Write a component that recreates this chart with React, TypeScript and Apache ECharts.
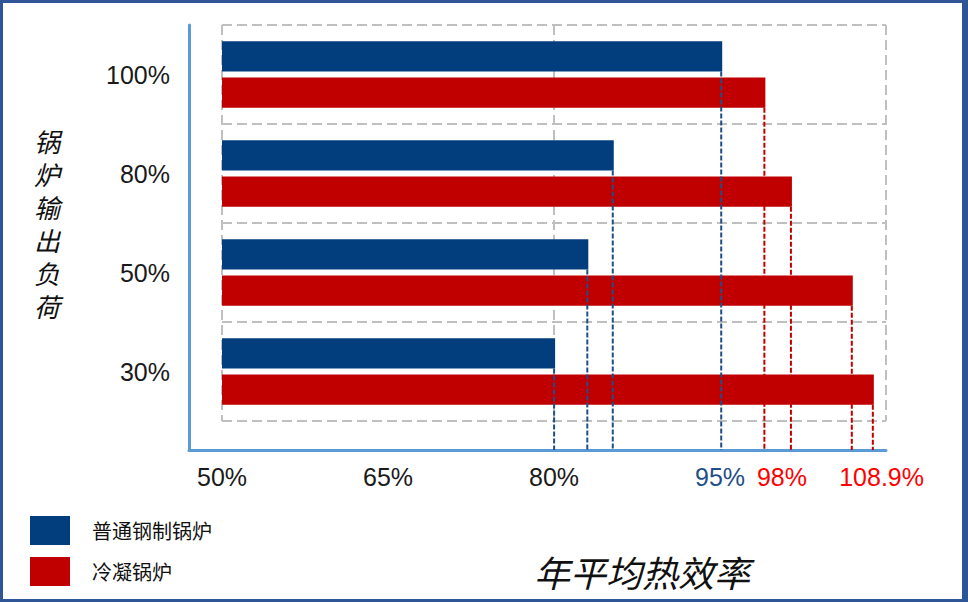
import React, { useEffect, useRef } from "react";
import * as echarts from "echarts";

// ---- data ----
const categories = ["100%", "80%", "50%", "30%"];
const seriesNames = ["普通钢制锅炉", "冷凝锅炉"];
const steelValues = [95.2, 85.4, 83.1, 80.1];
const condensingValues = [99.1, 101.5, 107.0, 108.9];
const xTickLabels = ["50%", "65%", "80%", "95%", "98%", "108.9%"];
const xTickValues = [50, 65, 80, 95, 100.6, 109.6];
const xTickStyles = ["k", "k", "k", "b", "r", "r"];
const xGridValues = [50, 80, 110];
const xMin = 50;
const xMax = 110;
const yAxisTitle = "锅炉输出负荷";
const xAxisTitle = "年平均热效率";

const BLUE = "#023e7e";
const RED = "#c00000";
const AXIS_BLUE = "#5b9bd5";
const NUM_FONT = "'Liberation Sans', Arial, sans-serif";
const CJK_FONT = "'Noto Sans CJK SC', sans-serif";

const CAT_GAP = 0.33;
const BAR_GAP = 0.2;

function dropLineSeries(name: string, values: number[], color: string, isFirst: boolean) {
  return {
    type: "custom",
    name,
    xAxisIndex: 0,
    yAxisIndex: 0,
    clip: false,
    z: 5,
    encode: { x: 0, y: 1 },
    data: values.map((v, i) => [v, i]),
    renderItem: (params: any, api: any) => {
      const v = api.value(0);
      const c = api.value(1);
      const p = api.coord([v, c]);
      const band = api.size([0, 1])[1];
      const barW = (band * (1 - CAT_GAP)) / (2 + BAR_GAP);
      const gap = barW * BAR_GAP;
      const yStart = isFirst ? p[1] - gap / 2 : p[1] + gap / 2 + barW;
      const yEnd = params.coordSys.y + params.coordSys.height + 29;
      return {
        type: "line",
        shape: { x1: p[0] - 1, y1: yStart, x2: p[0] - 1, y2: yEnd },
        style: { stroke: color, lineWidth: 2, lineDash: [5, 2] },
      };
    },
  };
}

export default function App() {
  const ref = useRef<HTMLDivElement>(null);
  useEffect(() => {
    if (!ref.current) return;
    const chart = echarts.init(ref.current, null, { renderer: "svg" });
    const rich: any = {
      k: { color: "#1a1a1a", fontSize: 25, fontFamily: NUM_FONT },
      b: { color: "#1f4e89", fontSize: 25, fontFamily: NUM_FONT },
      r: { color: "#ff0000", fontSize: 25, fontFamily: NUM_FONT },
    };
    chart.setOption({
      animation: false,
      backgroundColor: "#ffffff",
      grid: [
        { left: 222, right: 82, top: 25, bottom: 181 },
        { left: 189, right: 82, top: 25, bottom: 152 },
      ],
      legend: {
        orient: "vertical",
        left: 30,
        top: 516,
        padding: 0,
        itemWidth: 40,
        itemHeight: 29,
        itemGap: 12,
        icon: "rect",
        data: seriesNames,
        textStyle: {
          fontSize: 20,
          fontFamily: CJK_FONT,
          color: "#111111",
          padding: [0, 0, 0, 17],
        },
      },
      xAxis: [
        {
          type: "value",
          gridIndex: 0,
          min: xMin,
          max: xMax,
          axisLine: { show: false },
          axisTick: { show: false, customValues: xGridValues },
          splitLine: {
            show: true,
            lineStyle: { color: "#bfbfbf", width: 2, type: [10, 5] },
          },
          axisLabel: {
            show: true,
            margin: 43,
            customValues: xTickValues,
            formatter: (val: number) => {
              const i = xTickValues.indexOf(val);
              if (i < 0) return "";
              return `{${xTickStyles[i]}|${xTickLabels[i]}}`;
            },
            rich,
          },
        },
        {
          type: "value",
          gridIndex: 1,
          min: 0,
          max: 1,
          axisLine: { show: true, onZero: false, lineStyle: { color: AXIS_BLUE, width: 3 } },
          axisTick: { show: false },
          axisLabel: { show: false },
          splitLine: { show: false },
        },
      ],
      yAxis: [
        {
          type: "category",
          gridIndex: 0,
          inverse: true,
          data: categories,
          axisLine: { show: false },
          axisTick: { show: false },
          splitLine: {
            show: true,
            lineStyle: { color: "#bfbfbf", width: 2, type: [10, 5] },
          },
          axisLabel: {
            margin: 52,
            fontSize: 25,
            fontFamily: NUM_FONT,
            color: "#1a1a1a",
          },
        },
        {
          type: "value",
          gridIndex: 1,
          min: 0,
          max: 1,
          axisLine: { show: true, onZero: false, lineStyle: { color: AXIS_BLUE, width: 3 } },
          axisTick: { show: false },
          axisLabel: { show: false },
          splitLine: { show: false },
        },
      ],
      series: [
        {
          type: "bar",
          name: seriesNames[0],
          xAxisIndex: 0,
          yAxisIndex: 0,
          data: steelValues,
          itemStyle: { color: BLUE },
          barCategoryGap: `${CAT_GAP * 100}%`,
          barGap: `${BAR_GAP * 100}%`,
        },
        {
          type: "bar",
          name: seriesNames[1],
          xAxisIndex: 0,
          yAxisIndex: 0,
          data: condensingValues,
          itemStyle: { color: RED },
          barCategoryGap: `${CAT_GAP * 100}%`,
          barGap: `${BAR_GAP * 100}%`,
        },
        dropLineSeries("drop-steel", steelValues, "#1f4e89", true),
        dropLineSeries("drop-condensing", condensingValues, RED, false),
      ],
      graphic: [
        { type: "rect", shape: { x: 0, y: 0, width: 968, height: 3 }, style: { fill: "#2f5597" } },
        { type: "rect", shape: { x: 0, y: 599, width: 968, height: 3 }, style: { fill: "#2f5597" } },
        { type: "rect", shape: { x: 0, y: 0, width: 3, height: 602 }, style: { fill: "#2f5597" } },
        { type: "rect", shape: { x: 962, y: 0, width: 6, height: 602 }, style: { fill: "#2f5597" } },
        {
          type: "text",
          x: 47,
          y: 223,
          style: {
            text: yAxisTitle.split("").join("\n"),
            fontSize: 26,
            lineHeight: 33,
            fontStyle: "italic",
            fontFamily: CJK_FONT,
            fill: "#111111",
            align: "center",
            verticalAlign: "middle",
          },
        },
        {
          type: "text",
          x: 642,
          y: 571,
          style: {
            text: xAxisTitle,
            fontSize: 36,
            fontStyle: "italic",
            fontFamily: CJK_FONT,
            fill: "#111111",
            align: "center",
            verticalAlign: "middle",
          },
        },
      ],
    });
    return () => chart.dispose();
  }, []);
  return (
    <div
      ref={ref}
      style={{ position: "fixed", left: 0, top: 0, width: 968, height: 602, background: "#fff" }}
    />
  );
}
